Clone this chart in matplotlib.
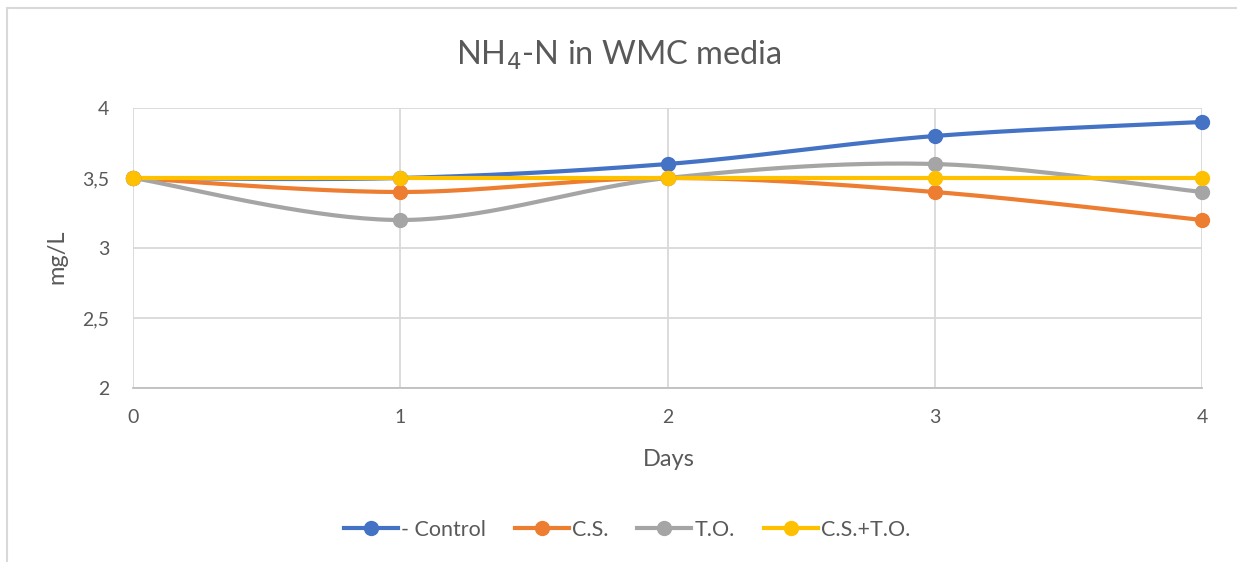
import matplotlib
matplotlib.use("Agg")
import matplotlib.pyplot as plt
import numpy as np
from matplotlib.patches import Rectangle

days = [0, 1, 2, 3, 4]
control = [3.5, 3.5, 3.6, 3.8, 3.9]
cs = [3.5, 3.4, 3.5, 3.4, 3.2]
to = [3.5, 3.2, 3.5, 3.6, 3.4]
cs_to = [3.5, 3.5, 3.5, 3.5, 3.5]

series_names = ["- Control", "C.S.", "T.O.", "C.S.+T.O."]
series_colors = ["#4472C4", "#ED7D31", "#A5A5A5", "#FFC000"]
y_ticks = [2, 2.5, 3, 3.5, 4]
y_tick_labels = ["2", "2,5", "3", "3,5", "4"]

TEXT = "#595959"
GRID = "#D9D9D9"
plt.rcParams["font.family"] = ["Lato", "DejaVu Sans"]


def smooth(x, y, n=40):
    # cubic bezier through the points, control points from neighbours (spreadsheet-style smoothing)
    x = np.asarray(x, float)
    y = np.asarray(y, float)
    px = np.concatenate([[x[0]], x, [x[-1]]])
    py = np.concatenate([[y[0]], y, [y[-1]]])
    t = np.linspace(0, 1, n)[:, None]
    xs, ys = [], []
    for i in range(1, len(px) - 2):
        p0 = np.array([px[i], py[i]])
        p3 = np.array([px[i + 1], py[i + 1]])
        c1 = p0 + (np.array([px[i + 1], py[i + 1]]) - np.array([px[i - 1], py[i - 1]])) / 6
        c2 = p3 - (np.array([px[i + 2], py[i + 2]]) - np.array([px[i], py[i]])) / 6
        b = (1 - t) ** 3 * p0 + 3 * (1 - t) ** 2 * t * c1 + 3 * (1 - t) * t ** 2 * c2 + t ** 3 * p3
        xs.append(b[:, 0])
        ys.append(b[:, 1])
    return np.concatenate(xs), np.concatenate(ys)


fig = plt.figure(figsize=(12.37, 5.62), dpi=100)
fig.patches.append(Rectangle((7 / 1237, -0.1), 1.2, 1 - 8 / 562 + 0.1,
                             transform=fig.transFigure, fill=False,
                             edgecolor=GRID, linewidth=1.5))

ax = fig.add_axes([133 / 1237, 1 - 388 / 562, (1202 - 133) / 1237, (388 - 108) / 562])
ax.set_xlim(0, 4)
ax.set_ylim(2, 4)

for name, vals, color in zip(series_names, [control, cs, to, cs_to], series_colors):
    sx, sy = smooth(days, vals)
    ax.plot(sx, sy, color=color, linewidth=3, solid_capstyle="round", zorder=3, clip_on=False)
    ax.plot(days, vals, linestyle="none", marker="o", markersize=10, color=color,
            zorder=4, clip_on=False)

for name, color in zip(series_names, series_colors):
    ax.plot([], [], color=color, linewidth=3, marker="o", markersize=10, label=name)

ax.set_xticks(days)
ax.set_yticks(y_ticks)
ax.set_yticklabels(y_tick_labels)
ax.grid(True, color=GRID, linewidth=1.3, zorder=0)
ax.tick_params(length=0, colors=TEXT, labelsize=14)
ax.tick_params(axis="y", pad=17)
ax.tick_params(axis="x", pad=15)
for side in ["top", "right", "left"]:
    ax.spines[side].set_visible(False)
ax.spines["bottom"].set_color("#BFBFBF")
ax.spines["bottom"].set_linewidth(1.3)

ax.set_xlabel("Days", color=TEXT, fontsize=17, va="center")
ax.xaxis.set_label_coords(0.501, (388 - 459) / 280)
ax.set_ylabel("mg/L", color=TEXT, fontsize=17, va="center")
ax.yaxis.set_label_coords((57 - 133) / 1069, 0.5 - 0.03)
fig.text(0.5, 1 - 55 / 562, r"NH$_4$-N in WMC media", ha="center", va="center",
         color=TEXT, fontsize=23.5)

handles, labels = ax.get_legend_handles_labels()
fig.legend(handles[-4:], labels[-4:], loc="center", bbox_to_anchor=(627 / 1237, 1 - 530 / 562),
           ncol=4, frameon=False, fontsize=15.5, labelcolor=TEXT, handlelength=2.5,
           handletextpad=0.15, columnspacing=1.35)

fig.savefig("out.png", dpi=100, facecolor="white")
